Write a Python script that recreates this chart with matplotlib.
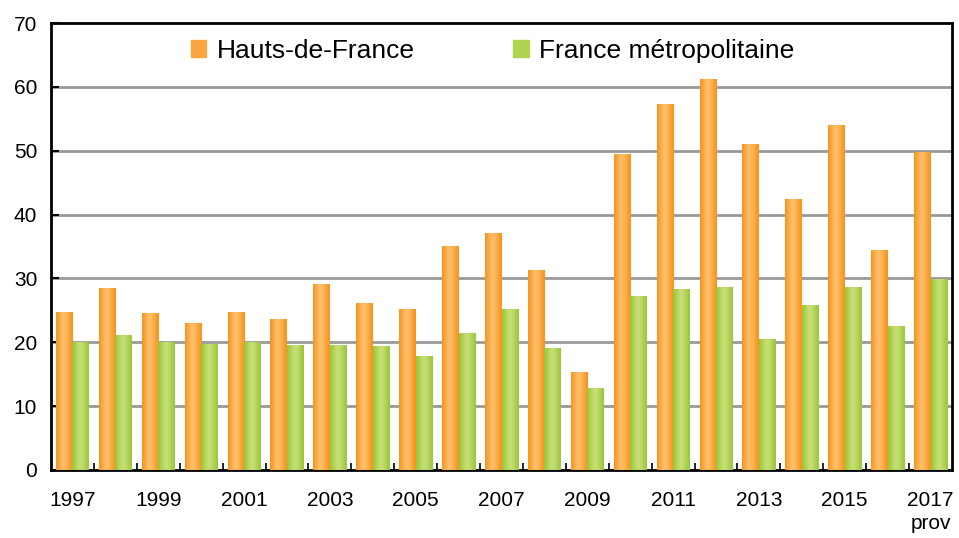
import numpy as np
import matplotlib
matplotlib.use('Agg')
import matplotlib.pyplot as plt
from matplotlib.colors import LinearSegmentedColormap
from matplotlib.patches import Patch

plt.rcParams['font.family'] = ['Liberation Sans', 'DejaVu Sans']

# data
years = list(range(1997, 2018))
hdf = [24.7, 28.4, 24.5, 23.0, 24.7, 23.6, 29.1, 26.1, 25.2, 35.0, 37.1,
       31.2, 15.2, 49.4, 57.2, 61.1, 50.9, 42.4, 53.9, 34.3, 49.7]
france = [19.9, 21.1, 20.0, 19.7, 20.0, 19.5, 19.5, 19.4, 17.7, 21.4, 25.2,
          19.1, 12.8, 27.1, 28.3, 28.6, 20.5, 25.8, 28.6, 22.4, 29.9]
labels = ['Hauts-de-France', 'France métropolitaine']
tick_years = ['1997', '1999', '2001', '2003', '2005', '2007', '2009',
              '2011', '2013', '2015', '2017\nprov']

orange_cm = LinearSegmentedColormap.from_list(
    'o', [(0, '#F7921A'), (0.4, '#FDC06C'), (0.55, '#FDBB62'), (1, '#F7921A')])
green_cm = LinearSegmentedColormap.from_list(
    'g', [(0, '#98C636'), (0.45, '#C8E077'), (0.6, '#C2DC6E'), (1, '#98C636')])

fig = plt.figure(figsize=(9.59, 5.38), dpi=100)
ax = fig.add_axes([0.0532, 0.1264, 0.9395, 0.8308])

x = np.arange(len(years))
w = 0.385
grad = np.linspace(0, 1, 64).reshape(1, -1)


def gradient_bars(bars, cmap):
    for b in bars:
        x0, y0 = b.get_x(), b.get_y()
        bw, bh = b.get_width(), b.get_height()
        ax.imshow(grad, cmap=cmap, aspect='auto', extent=(x0, x0 + bw, y0, y0 + bh),
                  zorder=3, interpolation='bicubic')
        b.set_visible(False)


b1 = ax.bar(x - w / 2, hdf, w, color='#F7941D', zorder=3)
b2 = ax.bar(x + w / 2, france, w, color='#9BC83A', zorder=3)
gradient_bars(b1, orange_cm)
gradient_bars(b2, green_cm)

ax.set_xlim(-0.5, len(years) - 0.5)
ax.set_ylim(0, 70)
ax.set_yticks(range(0, 80, 10))
for v in range(10, 70, 10):
    ax.axhline(v, color='#999999', lw=2, zorder=1)

ax.tick_params(axis='y', direction='in', length=6, width=1.5, labelsize=15, pad=10)
ax.set_xticks(np.arange(0.5, len(years) - 1, 1))
ax.set_xticklabels([])
ax.tick_params(axis='x', which='major', direction='in', length=5, width=1.2)
ax.set_xticks(np.arange(0, len(years), 2), minor=True)
ax.set_xticklabels(tick_years, minor=True, fontsize=15, linespacing=1.3)
ax.tick_params(axis='x', which='minor', length=0, pad=15)
for s in ax.spines.values():
    s.set_linewidth(2)
    s.set_color('black')

handles = [Patch(color='#FBA63F'), Patch(color='#B0D350')]
ax.legend(handles, labels, loc='upper center', bbox_to_anchor=(0.49, 1.018), ncol=2,
          frameon=False, fontsize=19, handlelength=0.6, handleheight=0.65,
          handletextpad=0.4, columnspacing=3.7, borderaxespad=0.5)

ax.set_xlim(-0.5, len(years) - 0.5)
ax.set_ylim(0, 70)
fig.savefig('out.png', dpi=100)
